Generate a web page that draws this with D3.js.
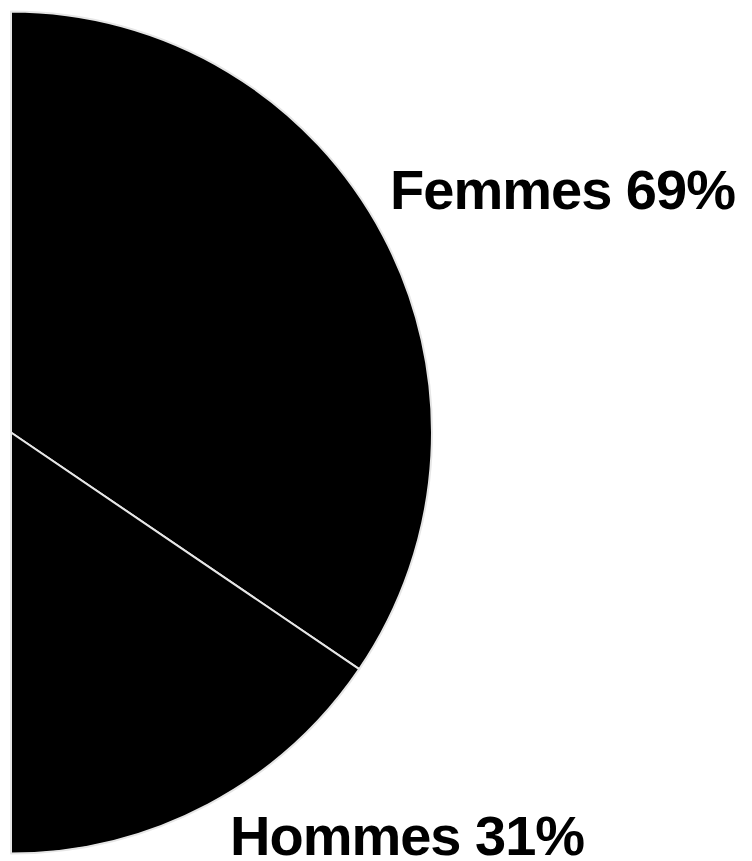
<!DOCTYPE html>
<html>
<head>
<meta charset="utf-8">
<script src="https://cdn.jsdelivr.net/npm/d3@7"></script>
<style>
  html, body { margin: 0; padding: 0; background: #fff; }
  svg { display: block; }
  .label { font-family: "Liberation Sans", Arial, sans-serif; font-weight: bold; font-size: 56px; fill: #000; letter-spacing: -1px; }
</style>
</head>
<body>
<div id="chart"></div>
<script>
// data
const categories = ["Femmes", "Hommes"];
const shares = [69, 31];

const width = 752, height = 861;
const cx = 11, cy = 432.5, radius = 421;

const svg = d3.select("#chart")
  .append("svg")
  .attr("width", width)
  .attr("height", height)
  .append("g")
  .attr("transform", `translate(${cx},${cy})`);

const data = categories.map((c, i) => ({ name: c, value: shares[i] }));

// half pie, right side, clockwise from top
const pie = d3.pie()
  .value(d => d.value)
  .sort(null)
  .startAngle(0)
  .endAngle(Math.PI);

const arc = d3.arc().innerRadius(0).outerRadius(radius);
const arcs = pie(data);

svg.selectAll("path.slice")
  .data(arcs)
  .enter()
  .append("path")
  .attr("class", "slice")
  .attr("d", arc)
  .attr("fill", "#000")
  .attr("stroke", "#e6e6e6")
  .attr("stroke-width", 2)
  .attr("stroke-linejoin", "round");

// labels placed off the outer edge of each slice
const labelOffset = { Femmes: [7, -27], Hommes: [22, 50] };

svg.selectAll("text.label")
  .data(arcs)
  .enter()
  .append("text")
  .attr("class", "label")
  .attr("x", d => {
    const a = (d.startAngle + d.endAngle) / 2;
    return Math.sin(a) * radius + labelOffset[d.data.name][0];
  })
  .attr("y", d => {
    const a = (d.startAngle + d.endAngle) / 2;
    return -Math.cos(a) * radius + labelOffset[d.data.name][1];
  })
  .text(d => `${d.data.name} ${d.data.value}%`);
</script>
</body>
</html>
